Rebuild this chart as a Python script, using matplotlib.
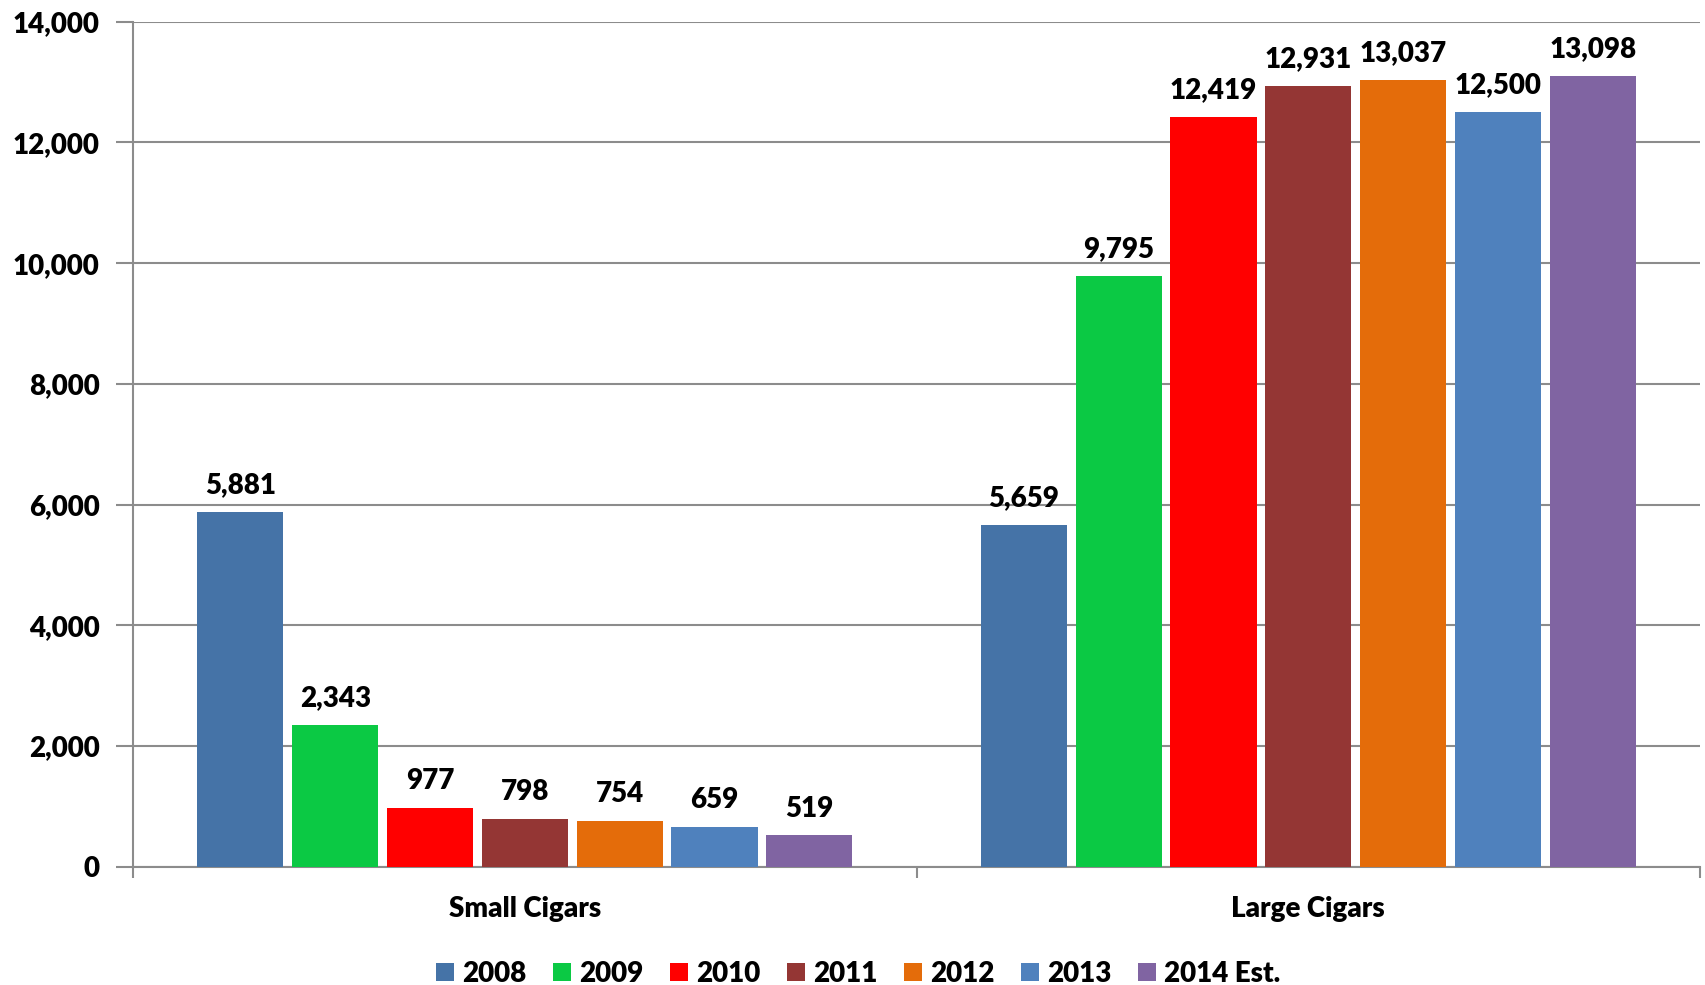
import matplotlib.pyplot as plt
import numpy as np

plt.rcParams['font.family'] = ['Lato', 'DejaVu Sans']
plt.rcParams['font.weight'] = 'heavy'

categories = ['Small Cigars', 'Large Cigars']
years = ['2008', '2009', '2010', '2011', '2012', '2013', '2014 Est.']
values = [
    [5881, 5659],
    [2343, 9795],
    [977, 12419],
    [798, 12931],
    [754, 13037],
    [659, 12500],
    [519, 13098],
]
colors = ['#4573A7', '#0BC944', '#FF0000', '#943634', '#E46C0A', '#4F81BD', '#8064A2']

fig = plt.figure(figsize=(17.06, 9.85), dpi=100)
ax = fig.add_axes([0.078, 0.12, 0.9185, 0.858])

pitch = 0.121
width = 0.11
x = np.arange(len(categories))
for i, (yr, vals) in enumerate(zip(years, values)):
    pos = x + (i - 3) * pitch
    rects = ax.bar(pos, vals, width, color=colors[i], label=yr, zorder=3)
    for r, v in zip(rects, vals):
        ax.text(r.get_x() + r.get_width() / 2, v + 230, '{:,}'.format(v),
                ha='center', va='bottom', fontsize=20, fontweight='heavy')

ax.set_xlim(-0.5, 1.5)
ax.set_ylim(0, 14000)
ax.set_yticks(range(0, 14001, 2000))
ax.set_yticklabels(['{:,}'.format(t) for t in range(0, 14001, 2000)],
                   fontsize=20, fontweight='heavy')
ax.yaxis.grid(True, color='#8c8c8c', linewidth=1.5, zorder=0)
ax.set_xticks([-0.5, 0.5, 1.5])
ax.set_xticklabels([])
ax.set_xticks(x, minor=True)
ax.set_xticklabels(categories, minor=True, fontsize=20, fontweight='heavy')
ax.tick_params(axis='x', which='minor', length=0, pad=21)
ax.tick_params(axis='x', which='major', length=8, width=1.5, color='#8c8c8c', direction='out')
ax.tick_params(axis='y', length=12, width=1.5, color='#8c8c8c', pad=12)

for s in ['top', 'right']:
    ax.spines[s].set_visible(False)
for s in ['left', 'bottom']:
    ax.spines[s].set_color('#8c8c8c')
    ax.spines[s].set_linewidth(1.5)

leg = fig.legend(loc='lower center', bbox_to_anchor=(0.503, -0.027), ncol=7,
                 frameon=False, fontsize=20, handlelength=0.65, handleheight=0.65,
                 handletextpad=0.3, columnspacing=0.95)
for t in leg.get_texts():
    t.set_fontweight('heavy')

fig.savefig('out.png', dpi=100)
